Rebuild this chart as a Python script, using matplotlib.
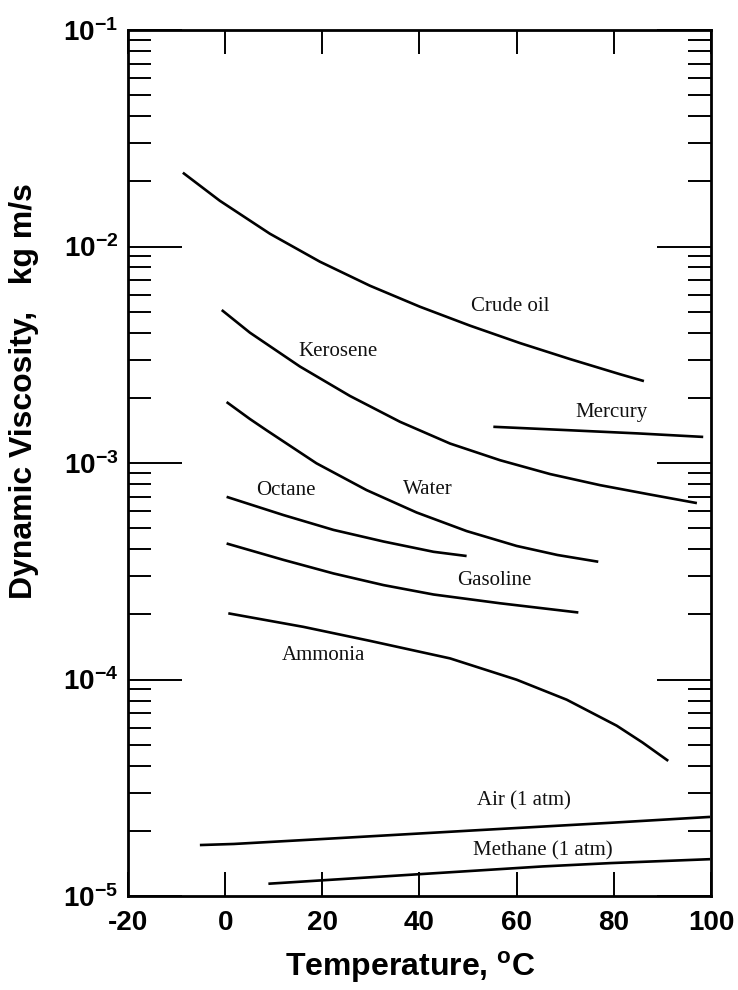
import numpy as np
import matplotlib
matplotlib.use('Agg')
import matplotlib.pyplot as plt

plt.rcParams['font.family'] = ['Liberation Sans', 'DejaVu Sans']
plt.rcParams['mathtext.fontset'] = 'custom'
plt.rcParams['mathtext.rm'] = 'Liberation Sans'
plt.rcParams['mathtext.bf'] = 'Liberation Sans:bold'

# values (temperature in C, viscosity in kg/m s)
crude_t = [-8.7, -1.1, 9.2, 19.5, 29.8, 40.1, 50.4, 60.7, 71.0, 81.3, 86.2]
crude_mu = [0.02193, 0.01627, 0.01146, 0.00851, 0.00659, 0.00527, 0.00431, 0.00358, 0.00302, 0.00257, 0.00239]

kero_t = [-0.7, 5.1, 15.4, 25.7, 36.0, 46.3, 56.6, 66.9, 77.2, 87.5, 97.1]
kero_mu = [0.00509, 0.00400, 0.00279, 0.00204, 0.00155, 0.00123, 0.00103, 0.000889, 0.000790, 0.000715, 0.000653]

mercury_t = [55.2, 70.0, 85.0, 98.4]
mercury_mu = [0.00147, 0.00142, 0.00137, 0.00132]

water_t = [0.3, 5.1, 8.6, 18.8, 29.1, 39.4, 49.7, 60.0, 68.4, 76.8]
water_mu = [0.001913, 0.001597, 0.001413, 0.000997, 0.000750, 0.000591, 0.000485, 0.000414, 0.000376, 0.000350]

octane_t = [0.3, 12.0, 22.3, 32.6, 42.9, 49.7]
octane_mu = [0.000698, 0.000575, 0.000491, 0.000434, 0.000389, 0.000372]

gasoline_t = [0.3, 12.0, 22.3, 32.6, 42.9, 56.6, 72.7]
gasoline_mu = [0.000425, 0.000357, 0.000309, 0.000273, 0.000247, 0.000225, 0.000204]

ammonia_t = [0.65, 16.1, 29.8, 46.3, 60.0, 70.3, 80.6, 85.9, 91.2]
ammonia_mu = [0.0002022, 0.0001751, 0.0001509, 0.0001252, 0.0000998, 0.0000807, 0.0000612, 0.0000512, 0.0000421]

air_t = [-5.2, 1.8, 23.0, 51.2, 79.4, 99.8]
air_mu = [1.72e-5, 1.74e-5, 1.85e-5, 2.01e-5, 2.18e-5, 2.32e-5]

methane_t = [8.9, 37.1, 65.3, 79.4, 99.8]
methane_mu = [1.14e-5, 1.25e-5, 1.37e-5, 1.42e-5, 1.48e-5]

curve_names = ['Crude oil', 'Kerosene', 'Mercury', 'Water', 'Octane',
               'Gasoline', 'Ammonia', 'Air (1 atm)', 'Methane (1 atm)']
label_t = [58.6, 23.2, 79.6, 41.8, 12.5, 55.3, 20.3, 61.4, 65.3]
label_mu = [10**-2.275, 10**-2.483, 10**-2.766, 10**-3.120, 10**-3.128,
            10**-3.541, 10**-3.891, 10**-4.560, 10**-4.792]

x_ticks = [-20, 0, 20, 40, 60, 80, 100]
y_ticks = [1e-5, 1e-4, 1e-3, 1e-2, 1e-1]
y_ticklabels = [r'$\mathbf{10^{-5}}$', r'$\mathbf{10^{-4}}$', r'$\mathbf{10^{-3}}$',
                r'$\mathbf{10^{-2}}$', r'$\mathbf{10^{-1}}$']

fig = plt.figure(figsize=(7.38, 9.9), dpi=100)
ax = fig.add_axes([0.1734, 0.0949, 0.79, 0.8748])

curves = [(crude_t, crude_mu), (kero_t, kero_mu), (mercury_t, mercury_mu),
          (water_t, water_mu), (octane_t, octane_mu), (gasoline_t, gasoline_mu),
          (ammonia_t, ammonia_mu), (air_t, air_mu), (methane_t, methane_mu)]
for t, mu in curves:
    ax.plot(t, mu, color='black', lw=1.9, solid_capstyle='butt', solid_joinstyle='round')

for name, t, mu in zip(curve_names, label_t, label_mu):
    ax.text(t, mu, name, ha='center', va='center', fontsize=15,
            family='Liberation Serif', color='#111111')

ax.set_yscale('log')
ax.set_xlim(-20, 100)
ax.set_ylim(1e-5, 1e-1)
ax.set_xticks(x_ticks)
ax.set_xticklabels([str(v) for v in x_ticks], fontsize=20, fontweight='bold')
ax.set_yticks(y_ticks)
ax.set_yticklabels(y_ticklabels, fontsize=20)

ax.tick_params(axis='x', which='major', direction='in', top=True, length=17, width=1.4, pad=10)
ax.tick_params(axis='y', which='major', direction='in', right=True, length=39, width=1.4, pad=7)
ax.tick_params(axis='y', which='minor', direction='in', right=True, length=16.5, width=1.4)
ax.tick_params(axis='x', which='minor', bottom=False, top=False)
for s in ax.spines.values():
    s.set_linewidth(2)

fig.text(410 / 738, 1 - 967 / 990, r'Temperature, $^{\mathbf{o}}$C', ha='center', va='center',
         fontsize=23, fontweight='bold')
fig.text(24 / 738, 1 - 391 / 990, 'Dynamic Viscosity,   kg m/s', rotation=90,
         ha='center', va='center', fontsize=23, fontweight='bold')

fig.savefig('out.png', dpi=100)
